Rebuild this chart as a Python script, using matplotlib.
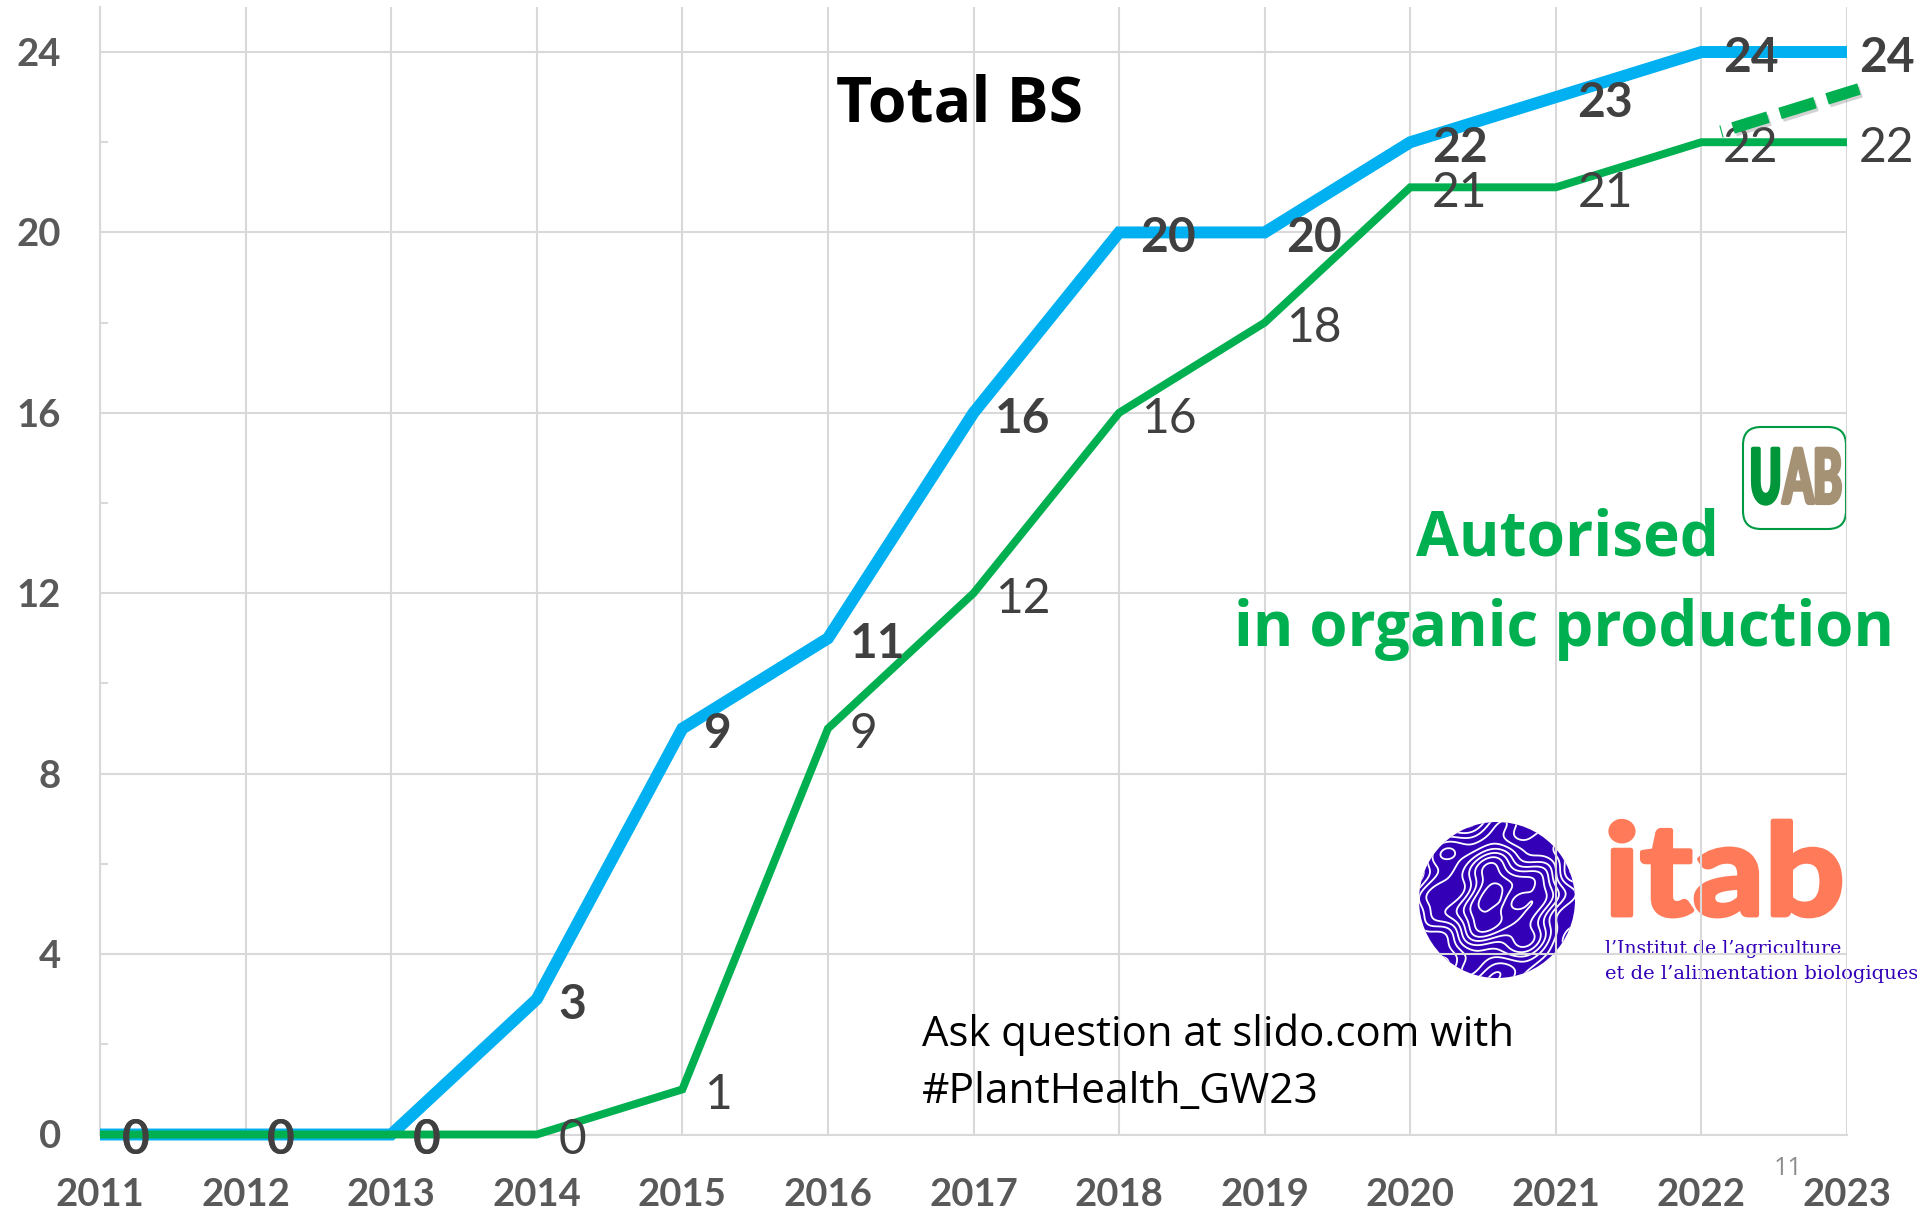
import numpy as np
import matplotlib
matplotlib.use("Agg")
from matplotlib import pyplot as plt
from matplotlib.patches import Circle, FancyBboxPatch
from matplotlib.transforms import Affine2D
import matplotlib.patheffects as pe

years = [2011, 2012, 2013, 2014, 2015, 2016, 2017, 2018, 2019, 2020, 2021, 2022, 2023]
total_bs = [0, 0, 0, 3, 9, 11, 16, 20, 20, 22, 23, 24, 24]
organic = [0, 0, 0, 0, 1, 9, 12, 16, 18, 21, 21, 22, 22]
y_major = [0, 4, 8, 12, 16, 20, 24]
y_minor = [2, 6, 10, 14, 18, 22]

BLUE = "#00b0f0"
GREEN = "#00b050"
GREY = "#d9d9d9"
LABEL = "#404040"
TICK = "#595959"
INDIGO = "#3300b8"
CORAL = "#ff7a59"

W, H = 1917, 1209


class Stretch(pe.AbstractPathEffect):
    # squeezes or fattens logo lettering, the fonts here do not have those cuts
    def __init__(self, sx, sy=1.0, bold=0.0):
        super().__init__()
        self.sx, self.sy, self.bold = sx, sy, bold

    def draw_path(self, renderer, gc, tpath, affine, rgbFace=None):
        gc0 = renderer.new_gc()
        gc0.copy_properties(gc)
        if self.bold:
            gc0.set_linewidth(self.bold)
            gc0.set_foreground(rgbFace)
        renderer.draw_path(gc0, tpath, Affine2D().scale(self.sx, self.sy) + affine, rgbFace)
        gc0.restore()


fig = plt.figure(figsize=(W / 100, H / 100), dpi=100, facecolor="white")

# logos go under the chart, the gridlines run across them in the slide
lg = fig.add_axes([0, 0, 1, 1], zorder=0)
lg.set_xlim(0, W)
lg.set_ylim(H, 0)
lg.axis("off")

circ = Circle((1497, 900), 78, fc=INDIGO, ec="none")
lg.add_patch(circ)
gx, gy = np.meshgrid(np.linspace(1415, 1580, 300), np.linspace(818, 982, 300))
u, v = (gx - 1497) / 78, (gy - 900) / 78
field = np.hypot(u, v) + 0.09 * np.sin(9 * u + 2 * v) + 0.08 * np.cos(8 * v - 3 * u) + 0.04 * np.sin(15 * v + 7 * u)
cs = lg.contour(gx, gy, field, levels=np.arange(0.05, 1.3, 0.115), colors="white", linewidths=1.3)
cs.set_clip_path(circ)

lg.text(1604, 915, "itab", fontsize=91, family="Lato", fontweight="bold", color=CORAL, va="baseline",
        path_effects=[Stretch(1.12, bold=3.5)])
lg.text(1605, 954, "l’Institut de l’agriculture", fontsize=13.6, family="DejaVu Serif", color=INDIGO, va="baseline")
lg.text(1605, 979, "et de l’alimentation biologiques", fontsize=14, family="DejaVu Serif", color=INDIGO, va="baseline")

lg.add_patch(FancyBboxPatch((1754, 438), 81, 80, boxstyle="round,pad=11,rounding_size=18",
                            fc="none", ec="#009a44", lw=1.5))
lg.text(1750, 503, "U", fontsize=54, family="Lato", fontweight="bold", color="#009639", va="baseline",
        path_effects=[Stretch(0.56, bold=3)])
lg.text(1783, 503, "AB", fontsize=54, family="Lato", fontweight="bold", color="#a59274", va="baseline",
        path_effects=[Stretch(0.58, bold=3)])

# plot area: 2011 at x=100, 2023 at x=1847, y=0 at 1134.5, y=24 at 52
ax = fig.add_axes([100 / W, 1 - 1134.5 / H, 1747 / W, 1127.6 / H], zorder=1)
ax.patch.set_alpha(0)
ax.set_xlim(2011, 2023)
ax.set_ylim(0, 25)
for s in ["top", "right"]:
    ax.spines[s].set_visible(False)
for s in ["left", "bottom"]:
    ax.spines[s].set_color(GREY)
    ax.spines[s].set_linewidth(1.5)

ax.set_xticks(years)
ax.set_yticks(y_major)
ax.set_yticks(y_minor, minor=True)
ax.grid(True, which="major", color=GREY, linewidth=1.5)
ax.set_axisbelow(True)
ax.tick_params(axis="x", length=0, pad=31, labelsize=27.5, labelcolor=TICK)
ax.tick_params(axis="y", which="major", length=0, pad=28, labelsize=27.5, labelcolor=TICK)
ax.tick_params(axis="y", which="minor", direction="in", length=6, width=1.5, color=GREY)
for t in ax.get_xticklabels() + ax.get_yticklabels():
    t.set_fontfamily("Lato")
    t.set_fontweight("bold")

ax.plot(years, total_bs, color=BLUE, lw=8.6, solid_capstyle="butt", solid_joinstyle="miter", clip_on=False, zorder=3)
ax.plot(years, organic, color=GREEN, lw=5.7, solid_capstyle="butt", solid_joinstyle="miter", clip_on=False, zorder=4)

# data labels sit to the right of each point, the 2023 ones closer in
for i, yr in enumerate(years):
    dx = 8.5 if yr == 2023 else 15.5
    ax.annotate(str(organic[i]), (yr, organic[i]), xytext=(dx, -1.3), textcoords="offset points",
                ha="left", va="center_baseline", fontsize=34.5, family="Lato", color=LABEL,
                zorder=6, annotation_clip=False)
    ax.annotate(str(total_bs[i]), (yr, total_bs[i]), xytext=(dx, -1.3), textcoords="offset points",
                ha="left", va="center_baseline", fontsize=34.5, family="Lato", fontweight="bold",
                color=LABEL, zorder=7, annotation_clip=False)

# overlay in image pixels for the slide texts
ov = fig.add_axes([0, 0, 1, 1], zorder=5)
ov.set_xlim(0, W)
ov.set_ylim(H, 0)
ov.axis("off")
ov.patch.set_alpha(0)

ov.plot([1733, 1859], [128, 89], color=GREEN, lw=8.5, linestyle=(0, (3.1, 1.07)),
        path_effects=[pe.SimpleLineShadow(offset=(1.5, -2), shadow_color="#808080", alpha=0.35), pe.Normal()])
ov.plot([1720, 1723], [126, 137], color=GREEN, lw=0.8)

ov.text(959, 122, "Total BS", fontsize=45, family="Open Sans", fontweight="bold", color="black", ha="center", va="baseline")
ov.text(1567, 556, "Autorised", fontsize=44.7, family="Open Sans", fontweight="bold", color=GREEN, ha="center", va="baseline")
ov.text(1564, 646, "in organic production", fontsize=44.5, family="Open Sans", fontweight="bold", color=GREEN, ha="center", va="baseline")
ov.text(922, 1046, "Ask question at slido.com with", fontsize=30.2, family="Open Sans", color="black", va="baseline")
ov.text(922, 1103, "#PlantHealth_GW23", fontsize=30.6, family="Open Sans", color="black", va="baseline")
ov.text(1788, 1175, "11", fontsize=18, family="Open Sans", color="#8c8c8c", ha="center", va="baseline")

fig.savefig("out.png", dpi=100)
